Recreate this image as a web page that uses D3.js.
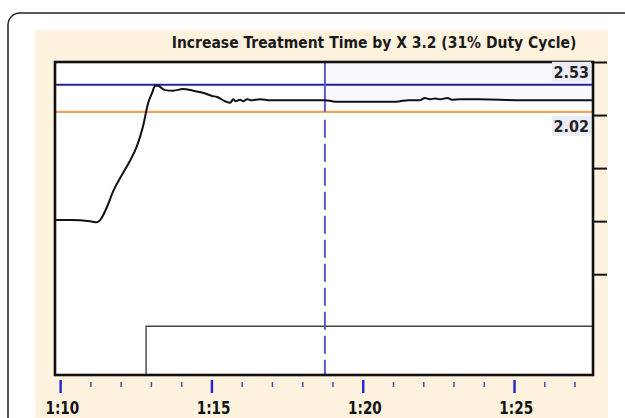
<!DOCTYPE html>
<html>
<head>
<meta charset="utf-8">
<script src="https://cdn.jsdelivr.net/npm/d3@7"></script>
<style>
  body { margin: 0; background: #fff; }
  svg { display: block; }
</style>
</head>
<body>
<svg width="625" height="418"></svg>
<script>
// treatment signal, time in minutes (1:10 = 70)
const sigTime = [69.83, 70.33, 70.99, 71.22, 71.32, 71.55, 71.75, 72.05, 72.31, 72.54,
  72.74, 72.91, 73.04, 73.14, 73.24, 73.30, 73.47, 73.73, 74.06, 74.39,
  74.72, 75.02, 75.19, 75.45, 75.62, 75.72, 75.80, 75.95, 76.05, 76.18, 76.30,
  76.61, 76.94, 77.60, 78.26, 78.75, 78.99, 79.12, 79.91, 81.03, 81.23,
  81.50, 81.89, 82.05, 82.22, 82.40, 82.55, 82.80, 82.95, 83.21, 83.88, 85.20, 86.52, 87.61];
const sigValue = [-0.02, -0.02, -0.04, -0.06, -0.02, 0.23, 0.52, 0.84, 1.10, 1.38,
  1.75, 2.19, 2.38, 2.51, 2.51, 2.49, 2.43, 2.42, 2.45, 2.42,
  2.38, 2.32, 2.30, 2.22, 2.19, 2.26, 2.22, 2.25, 2.22, 2.26, 2.24,
  2.26, 2.24, 2.24, 2.24, 2.24, 2.22, 2.21, 2.21, 2.21, 2.22,
  2.24, 2.24, 2.28, 2.26, 2.27, 2.26, 2.28, 2.25, 2.26, 2.26, 2.24, 2.24, 2.24];

// lower pulse trace
const pulseTime = [69.83, 72.84, 72.84, 87.61];
const pulseValue = [-2.94, -2.94, -2.02, -2.02];

const upperLimit = 2.53;
const lowerLimit = 2.02;
const cursorTime = 78.75;

const title = "Increase Treatment Time by X 3.2 (31% Duty Cycle)";
const minorTicks = d3.range(70, 88);
const majorTicks = [70, 75, 80, 85];
const yTicks = [2.96, 1.96, 0.96, -0.04, -1.04];

const svg = d3.select("svg");

const x = d3.scaleLinear().domain([69.83, 87.61]).range([55, 593]);
const y = d3.scaleLinear().domain([-2.94, 2.96]).range([375, 62]);

const condensed = "'DejaVu Sans Condensed', 'DejaVu Sans', sans-serif";

// card + panel
svg.append("rect")
  .attr("x", 8).attr("y", 13).attr("width", 660).attr("height", 460)
  .attr("rx", 12)
  .attr("fill", "#fff").attr("stroke", "#222").attr("stroke-width", 1.5);

svg.append("rect")
  .attr("x", 35).attr("y", 30).attr("width", 573).attr("height", 400)
  .attr("fill", "#fdf2de");

svg.append("text")
  .attr("x", 374).attr("y", 48)
  .attr("text-anchor", "middle")
  .attr("font-family", condensed)
  .attr("font-stretch", "condensed")
  .attr("font-weight", "bold")
  .attr("font-size", 15.5)
  .attr("fill", "#1a1a1a")
  .text(title);

// plot area
svg.append("rect")
  .attr("x", x.range()[0]).attr("y", y.range()[1])
  .attr("width", x.range()[1] - x.range()[0])
  .attr("height", y.range()[0] - y.range()[1])
  .attr("fill", "#fff");

svg.append("rect")
  .attr("x", x(cursorTime)).attr("y", y.range()[1])
  .attr("width", x.range()[1] - x(cursorTime))
  .attr("height", y(2.24) - y.range()[1])
  .attr("fill", "#f8f8fd");

// pulse
svg.append("path")
  .datum(d3.zip(pulseTime, pulseValue))
  .attr("fill", "none")
  .attr("stroke", "#444")
  .attr("stroke-width", 1.4)
  .attr("d", d3.line().x(d => x(d[0])).y(d => y(d[1])));

// limits
svg.append("line")
  .attr("x1", x.range()[0]).attr("x2", x.range()[1])
  .attr("y1", y(upperLimit)).attr("y2", y(upperLimit))
  .attr("stroke", "#22229a").attr("stroke-width", 2);

svg.append("line")
  .attr("x1", x.range()[0]).attr("x2", x.range()[1])
  .attr("y1", y(lowerLimit)).attr("y2", y(lowerLimit))
  .attr("stroke", "#f4a15a").attr("stroke-width", 2.2);

// cursor: solid above the lower limit, dashed below
svg.append("line")
  .attr("x1", x(cursorTime)).attr("x2", x(cursorTime))
  .attr("y1", y.range()[1]).attr("y2", y(lowerLimit))
  .attr("stroke", "#5a5ad0").attr("stroke-width", 2);
svg.append("line")
  .attr("x1", x(cursorTime)).attr("x2", x(cursorTime))
  .attr("y1", y(lowerLimit) + 8).attr("y2", y.range()[0])
  .attr("stroke", "#5a5ad0").attr("stroke-width", 2)
  .attr("stroke-dasharray", "18,6");

// signal
svg.append("path")
  .datum(d3.zip(sigTime, sigValue))
  .attr("fill", "none")
  .attr("stroke", "#111")
  .attr("stroke-width", 2)
  .attr("stroke-linejoin", "round")
  .attr("d", d3.line().curve(d3.curveMonotoneX).x(d => x(d[0])).y(d => y(d[1])));

// frame
svg.append("rect")
  .attr("x", x.range()[0]).attr("y", y.range()[1])
  .attr("width", x.range()[1] - x.range()[0])
  .attr("height", y.range()[0] - y.range()[1])
  .attr("fill", "none").attr("stroke", "#111").attr("stroke-width", 2.6);

// limit labels
[[upperLimit, -23], [lowerLimit, 4]].forEach(([v, off]) => {
  const top = y(v) + off;
  svg.append("rect")
    .attr("x", 552).attr("y", top).attr("width", 39).attr("height", 20)
    .attr("fill", "#ececf6");
  svg.append("text")
    .attr("x", 589).attr("y", top + 16)
    .attr("text-anchor", "end")
    .attr("font-family", condensed)
    .attr("font-stretch", "condensed")
    .attr("font-weight", "bold")
    .attr("font-size", 16)
    .attr("fill", "#222")
    .text(v.toFixed(2));
});

// right axis
const yAxis = svg.append("g")
  .attr("transform", `translate(${x.range()[1]},0)`)
  .call(d3.axisRight(y).tickValues(yTicks).tickSize(14).tickFormat(""));
yAxis.select(".domain").remove();
yAxis.selectAll(".tick line").attr("stroke", "#111").attr("stroke-width", 2);

// bottom axis
const minorAxis = svg.append("g")
  .attr("transform", `translate(0,${y.range()[0] + 7})`)
  .call(d3.axisBottom(x).tickValues(minorTicks.filter(t => t % 5)).tickSize(5).tickFormat(""));
minorAxis.select(".domain").remove();
minorAxis.selectAll(".tick line").attr("stroke", "#4a4a9a").attr("stroke-width", 1.5);

const fmt = t => Math.floor(t / 60) + ":" + d3.format("02")(t % 60);
const majorAxis = svg.append("g")
  .attr("transform", `translate(0,${y.range()[0] + 5})`)
  .call(d3.axisBottom(x).tickValues(majorTicks).tickSize(13).tickPadding(0).tickFormat(fmt));
majorAxis.select(".domain").remove();
majorAxis.selectAll(".tick line").attr("stroke", "#2a2ad0").attr("stroke-width", 2.5);
majorAxis.selectAll(".tick text")
  .attr("x", 2).attr("y", 0).attr("dy", null)
  .attr("transform", "translate(0,34) scale(0.84,1)")
  .attr("font-family", condensed)
  .attr("font-stretch", "condensed")
  .attr("font-weight", "bold")
  .attr("font-size", 18)
  .attr("fill", "#111");
</script>
</body>
</html>
